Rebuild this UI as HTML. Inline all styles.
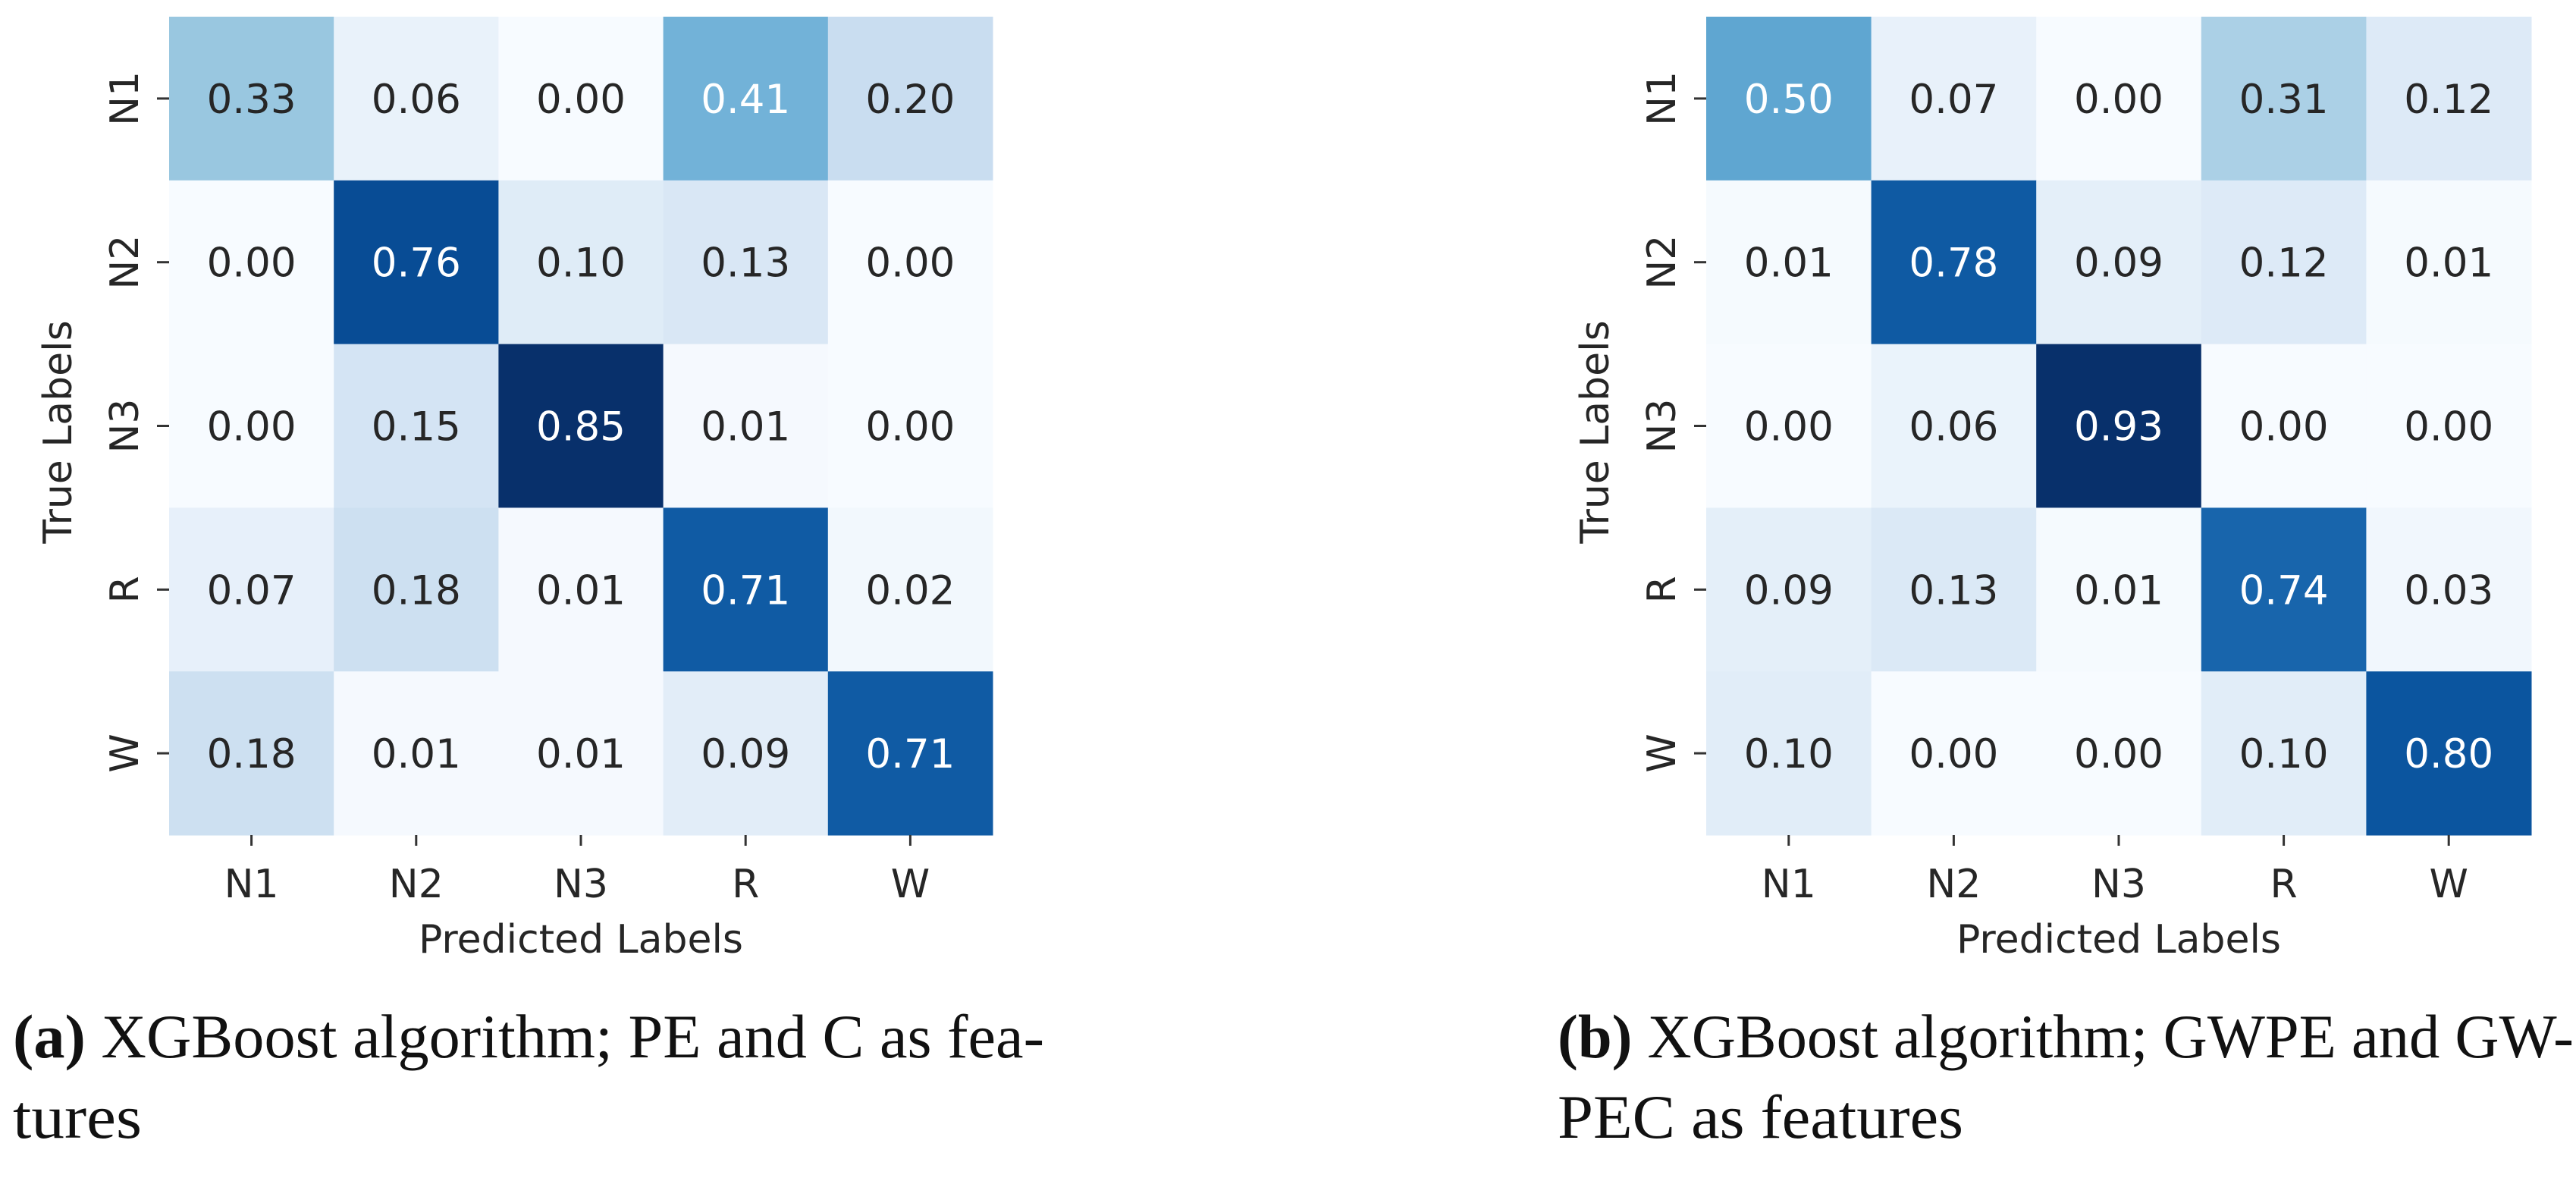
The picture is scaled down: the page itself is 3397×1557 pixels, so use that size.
<!DOCTYPE html>
<html><head><meta charset="utf-8">
<style>
html,body{margin:0;padding:0;background:#fff;}
svg{display:block;}
</style></head>
<body>
<svg id="fig" width="3397" height="1557" viewBox="0 0 3397 1557" xmlns="http://www.w3.org/2000/svg">
<g id="panelA"></g>
<g id="panelB"></g>
<text x="17" y="1394" font-family="Liberation Serif, serif" font-size="82" fill="#111" textLength="1360" lengthAdjust="spacingAndGlyphs"><tspan font-weight="bold">(a)</tspan> XGBoost algorithm; PE  and C  as fea-</text>
<text x="17" y="1500" font-family="Liberation Serif, serif" font-size="82" fill="#111" textLength="170" lengthAdjust="spacingAndGlyphs">tures</text>
<text x="2054" y="1394" font-family="Liberation Serif, serif" font-size="82" fill="#111" textLength="1340" lengthAdjust="spacingAndGlyphs"><tspan font-weight="bold">(b)</tspan> XGBoost algorithm; GWPE  and GW-</text>
<text x="2054" y="1500" font-family="Liberation Serif, serif" font-size="82" fill="#111" textLength="535" lengthAdjust="spacingAndGlyphs">PEC  as features</text>
</svg>
<script>
const categories = ["N1","N2","N3","R","W"];
const valuesA = [
  [0.33,0.06,0.00,0.41,0.20],
  [0.00,0.76,0.10,0.13,0.00],
  [0.00,0.15,0.85,0.01,0.00],
  [0.07,0.18,0.01,0.71,0.02],
  [0.18,0.01,0.01,0.09,0.71]
];
const valuesB = [
  [0.50,0.07,0.00,0.31,0.12],
  [0.01,0.78,0.09,0.12,0.01],
  [0.00,0.06,0.93,0.00,0.00],
  [0.09,0.13,0.01,0.74,0.03],
  [0.10,0.00,0.00,0.10,0.80]
];
const xTitle = "Predicted Labels";
const yTitle = "True Labels";

const NS="http://www.w3.org/2000/svg";
const blues=["#f7fbff","#deebf7","#c6dbef","#9ecae1","#6baed6","#4292c6","#2171b5","#08519c","#08306b"];
function hex(h){return [1,3,5].map(i=>parseInt(h.substr(i,2),16));}
function cmap(t){
  t=Math.max(0,Math.min(1,t));
  const p=t*8,i=Math.min(7,Math.floor(p)),f=p-i;
  const a=hex(blues[i]),b=hex(blues[i+1]);
  return a.map((v,k)=>Math.round(v+(b[k]-v)*f));
}
function lum(c){
  const l=c.map(v=>{v/=255;return v<=0.03928?v/12.92:Math.pow((v+0.055)/1.055,2.4);});
  return 0.2126*l[0]+0.7152*l[1]+0.0722*l[2];
}
function mk(tag,attrs,parent,txt){
  const e=document.createElementNS(NS,tag);
  for(const k in attrs)e.setAttribute(k,attrs[k]);
  if(txt!==undefined)e.textContent=txt;
  parent.appendChild(e);return e;
}
function draw(g,vals,x0,x1,y0,y1,ylabX,ytitleX){
  const n=categories.length;
  const cw=(x1-x0)/n,ch=(y1-y0)/n;
  const xs=i=>x0+i*cw, ys=j=>y0+j*ch;
  let mn=Infinity,mx=-Infinity;
  vals.forEach(r=>r.forEach(v=>{mn=Math.min(mn,v);mx=Math.max(mx,v);}));
  const font='"DejaVu Sans", "Liberation Sans", sans-serif';
  vals.forEach((row,j)=>row.forEach((v,i)=>{
    const c=cmap((v-mn)/(mx-mn));
    const r=mk('rect',{x:xs(i),y:ys(j),width:cw+0.5,height:ch+0.5,fill:`rgb(${c})`},g);
    
    
    const t=mk('text',{x:xs(i)+cw/2,y:ys(j)+ch/2+19,'text-anchor':'middle','font-family':font,'font-size':53,fill:lum(c)>0.408?'#262626':'#ffffff'},g,v.toFixed(2));
    
    
  }));
  categories.forEach((c,i)=>{
    const cx=xs(i)+cw/2;
    const tk=mk('line',{x1:cx,x2:cx,y1:y1,y2:y1+14,stroke:'#333','stroke-width':3},g);
    
    
    const tl=mk('text',{x:cx,y:y1+82,'text-anchor':'middle','font-family':font,'font-size':52,fill:'#262626'},g,c);
    
    
    const cy=ys(i)+ch/2;
    const yk=mk('line',{x1:x0-16,x2:x0,y1:cy,y2:cy,stroke:'#333','stroke-width':3},g);
    
    
    const yl=mk('text',{x:0,y:0,'text-anchor':'middle','font-family':font,'font-size':52,fill:'#262626',transform:`translate(${ylabX},${cy}) rotate(-90)`},g,c);
    
    
  });
  const xt=mk('text',{x:(x0+x1)/2,y:y1+155,'text-anchor':'middle','font-family':font,'font-size':52,fill:'#262626'},g,xTitle);
  
  
  const yt=mk('text',{x:0,y:0,'text-anchor':'middle','font-family':font,'font-size':52,fill:'#262626',transform:`translate(${ytitleX},${(y0+y1)/2+8}) rotate(-90)`},g,yTitle);
  
  
}
draw(document.getElementById('panelA'),valuesA,223,1309,22,1101,182,94);
draw(document.getElementById('panelB'),valuesB,2250,3338,22,1101,2209,2121);
</script>
</body></html>
